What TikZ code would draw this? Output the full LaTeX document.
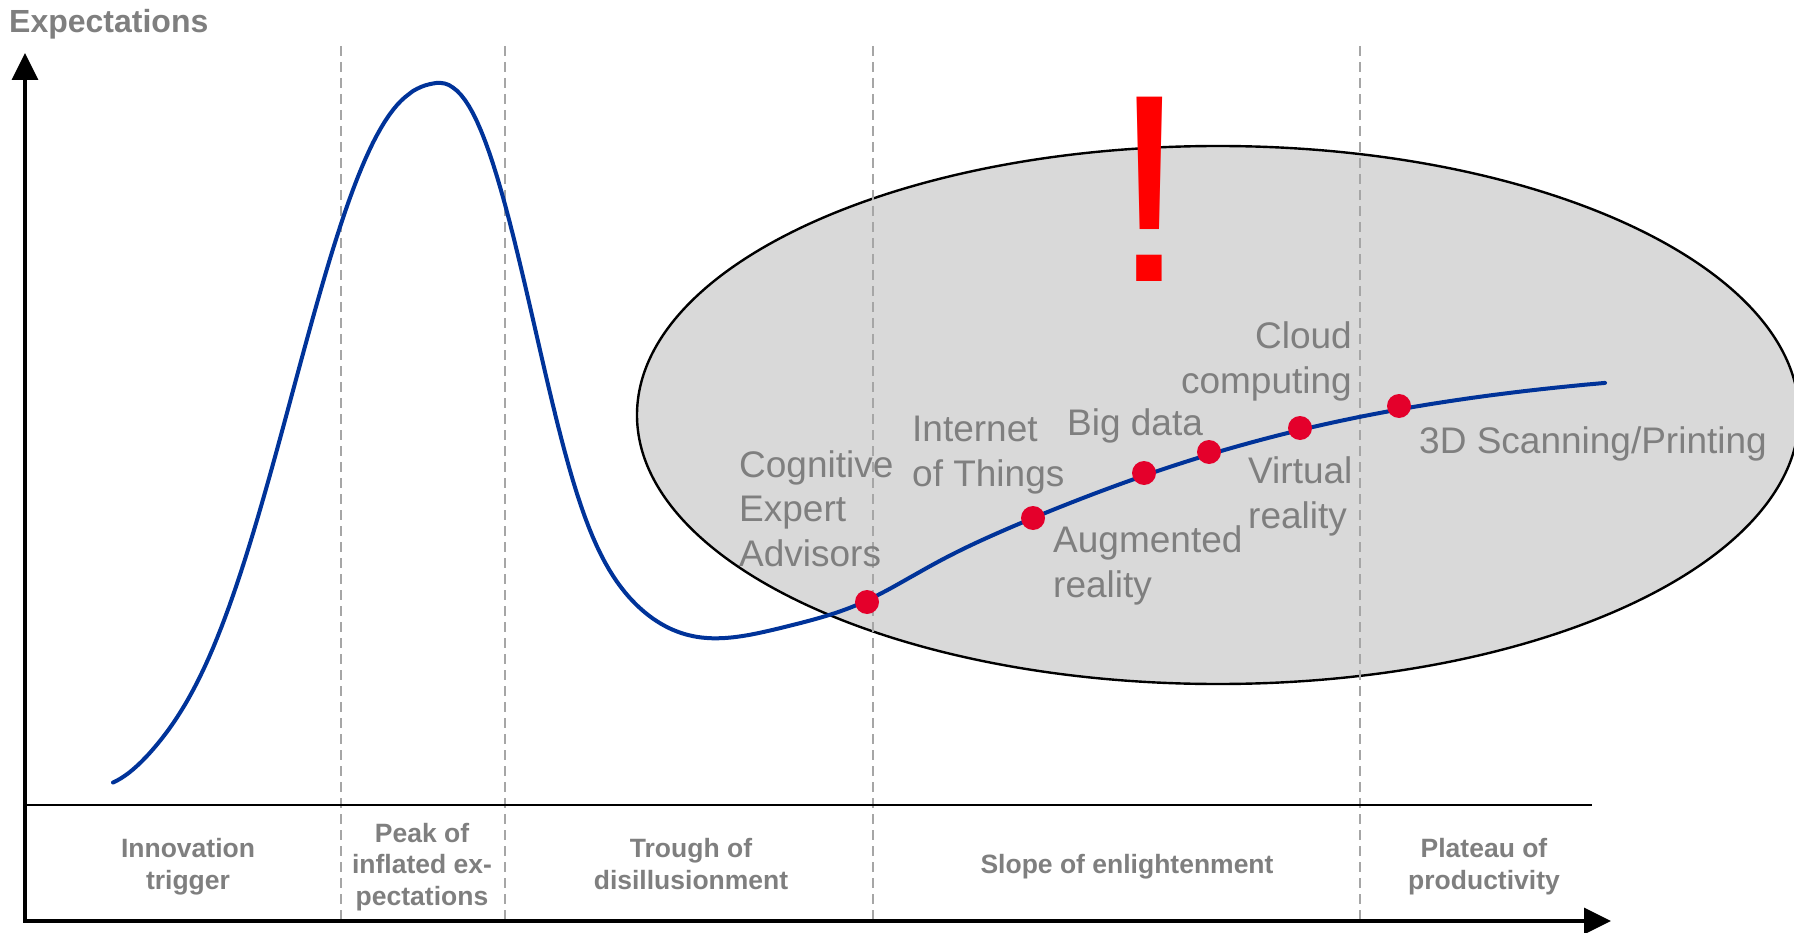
\documentclass[tikz,border=0pt]{standalone}
\usepackage{fontspec}
\setmainfont{Liberation Sans}
\usetikzlibrary{arrows.meta}

\definecolor{labelgray}{RGB}{127,127,127}
\definecolor{guidegray}{RGB}{166,166,166}
\definecolor{zonegray}{RGB}{217,217,217}
\definecolor{hypeblue}{RGB}{0,51,153}
\definecolor{dotred}{RGB}{228,0,43}
\definecolor{alertred}{RGB}{255,0,0}

\tikzset{
  techlabel/.style={font=\fontsize{37}{44.5}\selectfont, text=labelgray,
    inner sep=0pt, align=left, anchor=base west},
  phaselabel/.style={font=\bfseries\fontsize{26.5}{31.5}\selectfont, text=labelgray,
    inner sep=0pt, align=center, anchor=base},
  hypedot/.style={circle, fill=dotred, minimum size=24pt, inner sep=0pt},
  guide/.style={draw=guidegray, line width=2pt, dash pattern=on 10pt off 6pt},
  axisline/.style={line width=3.5pt, line join=miter,
    {Triangle[length=27pt,width=26pt]}-{Triangle[length=27pt,width=26pt]}},
}

\begin{document}
\begin{tikzpicture}[x=1pt,y=-1pt,
  declare function={
    hd(\x)=abs(\x-432)+0.01;
    pr(\x)=1.75+0.58/(1+exp(max(-8,min(8,(\x-160)/25))));
    kl(\x)=pow(hd(\x)/178,2.35);
    kr(\x)=pow(hd(\x)/136.6,pr(hd(\x)));
    gpk(\x)=660*exp(max(-12,-((\x<432) ? kl(\x) : kr(\x))));
    lgs(\x)=445/(1+exp(-(\x-885.5)/247));
    bmp(\x,\c,\w)=exp(max(-12,-pow((\x-\c)/\w,2)));
    hype(\x)=805-gpk(\x)-lgs(\x)+10*bmp(\x,860,70)+9*bmp(\x,113,40);
  }]
  \useasboundingbox (0,0) rectangle (1794,933);

  % highlighted zone
  \filldraw[fill=zonegray, draw=black, line width=2.4pt]
    (1218,415) ellipse [x radius=581, y radius=269];

  % phase separators
  \foreach \xx in {341,505,873,1360}
    \draw[guide] (\xx,46) -- (\xx,919);

  % axes
  \coordinate (ytip) at (25,53);
  \coordinate (xtip) at (1611,921);
  \coordinate (baseL) at (25,805);
  \coordinate (baseR) at (1592,805);
  \draw[line width=2pt] (baseL) -- (baseR);
  \draw[axisline] (ytip) |- (xtip);

  \node[font=\bfseries\fontsize{32}{38}\selectfont, text=labelgray, inner sep=0pt,
        anchor=base west] (ylabel) at (9,33) {Expectations};

  % hype curve: asymmetric peak on top of a logistic slope
  \draw[hypeblue, line width=4pt, line cap=round, line join=round]
    plot[domain=113:1605, samples=374] (\x,{hype(\x)});

  % technologies on the slope
  \node[hypedot] (cea) at (867,602) {};
  \node[hypedot] (iot) at (1033,518) {};
  \node[hypedot] (ar)  at (1144,473) {};
  \node[hypedot] (bd)  at (1209,452) {};
  \node[hypedot] (vr)  at (1300,428) {};
  \node[hypedot] (sp)  at (1399,406) {};

  \node[techlabel] (ceaL) at (739,566) {Cognitive\\Expert\\Advisors};
  \node[techlabel] (iotL) at (912,486) {Internet\\of Things};
  \node[techlabel] (bdL)  at (1067,435) {Big data};
  \node[techlabel, anchor=base east, align=right] (ccL) at (1352,393) {Cloud\\computing};
  \node[techlabel] (vrL)  at (1248,528) {Virtual\\reality};
  \node[techlabel] (arL)  at (1053,597) {Augmented\\reality};
  \node[techlabel] (spL)  at (1419,453) {3D Scanning/Printing};

  % alert mark
  \node[font=\fontsize{268}{268}\selectfont, text=alertred, inner sep=0pt,
        anchor=base] (alert) at (1150,282) {!};

  % phase names
  \node[phaselabel] (ph1) at (188,889) {Innovation\\trigger};
  \node[phaselabel] (ph2) at (422,905) {Peak of\\inflated ex-\\pectations};
  \node[phaselabel] (ph3) at (691,889) {Trough of\\disillusionment};
  \node[phaselabel] (ph4) at (1127,873) {Slope of enlightenment};
  \node[phaselabel] (ph5) at (1484,889) {Plateau of\\productivity};
\end{tikzpicture}
\end{document}
